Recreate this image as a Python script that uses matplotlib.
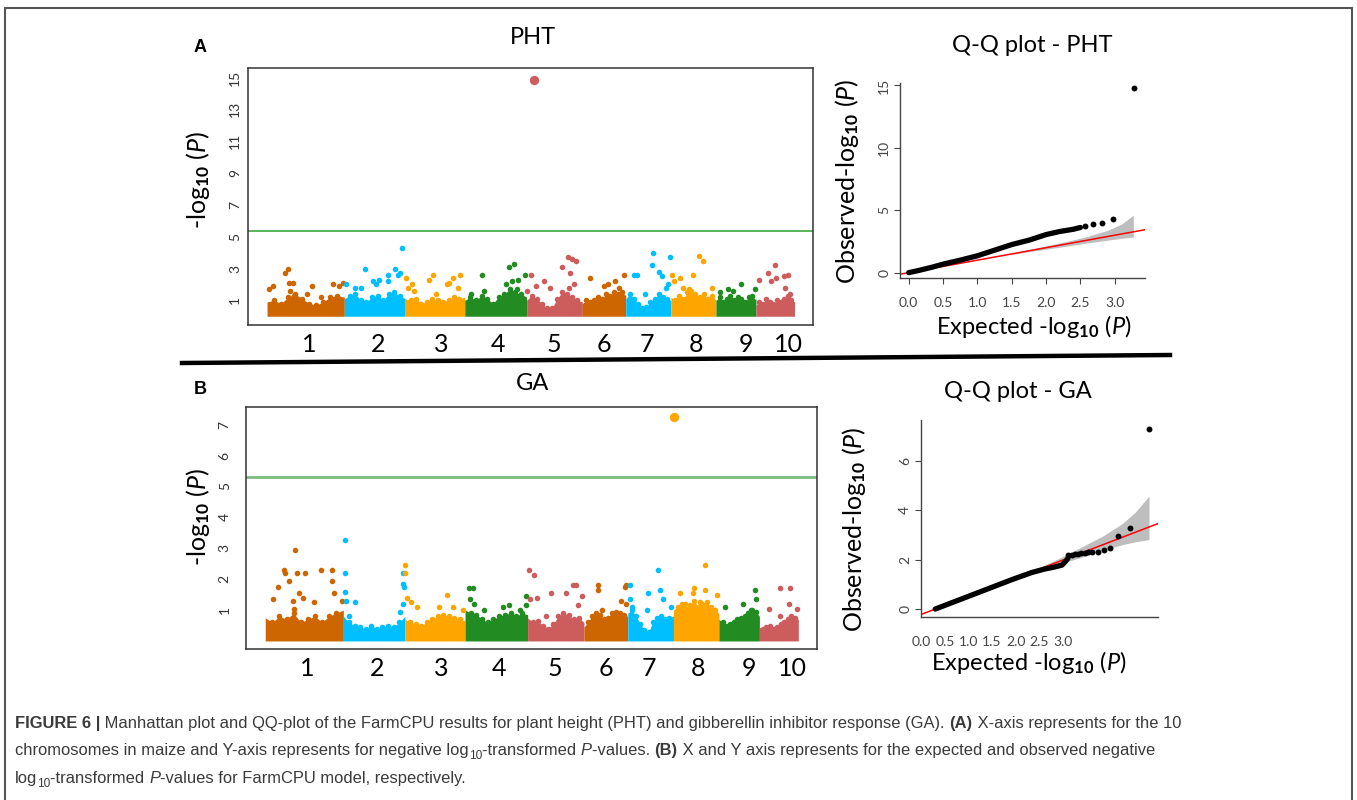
import numpy as np
import matplotlib
matplotlib.use('Agg')
import matplotlib.pyplot as plt
from matplotlib.lines import Line2D
from matplotlib.patches import Rectangle
from matplotlib import font_manager

W, H = 1357, 800
plt.rcParams['font.family'] = ['Lato', 'DejaVu Sans']
plt.rcParams['mathtext.fontset'] = 'custom'
plt.rcParams['mathtext.rm'] = 'Lato'
plt.rcParams['mathtext.it'] = 'Lato:italic'
plt.rcParams['mathtext.bf'] = 'Lato:bold'

# ── data ───────────────────────────────────────────────────────────────────
chrom_names = [str(i) for i in range(1, 11)]
chrom_len = [301, 237, 232, 241, 217, 169, 176, 175, 156, 150]          # Mb
chrom_label_pos = [163, 432, 677, 899, 1117, 1311, 1479, 1669, 1864, 2031]
chrom_colors = ['#CD6600', '#00BFFF', '#FFA500', '#228B22', '#CD5C5C'] * 2

# PHT Manhattan: dense band height along each chromosome + scattered SNPs (pos fraction, -log10 P)
pht_band = [
    [0.9, 1.0, 0.8, 1.2, 1.4, 1.1, 0.8, 0.7, 0.9, 1.2, 1.3, 1.2],
    [1.1, 1.3, 1.4, 1.0, 0.9, 1.2, 1.3, 1.0, 1.4, 1.5, 1.3, 1.1],
    [1.1, 1.0, 1.1, 0.8, 0.9, 1.1, 1.0, 0.9, 1.0, 1.2, 1.1, 1.2],
    [1.0, 1.2, 1.0, 1.3, 1.1, 0.8, 1.2, 1.4, 1.7, 1.5, 1.4, 1.2],
    [1.0, 1.3, 1.1, 0.8, 0.5, 0.5, 1.1, 1.5, 1.4, 1.2, 1.0, 0.9],
    [0.8, 1.0, 0.9, 1.0, 1.2, 1.1, 1.4, 1.3, 1.5, 1.4, 1.5, 1.3],
    [1.1, 1.4, 1.1, 0.8, 0.5, 0.6, 0.9, 1.1, 1.4, 1.2, 1.1, 1.0],
    [1.2, 1.0, 1.3, 1.1, 1.5, 1.6, 1.4, 1.2, 1.4, 1.1, 1.3, 1.0],
    [1.0, 1.2, 0.9, 1.1, 1.3, 1.0, 1.2, 1.1, 0.9, 1.2, 1.0, 1.1],
    [0.7, 0.9, 0.8, 1.1, 0.9, 0.8, 1.0, 0.9, 1.1, 1.3, 1.0, 0.9],
]
pht_snps = [
    [(.03, 1.7), (.08, 1.9), (.23, 2.7), (.27, 3.0), (.28, 2.1), (.33, 2.1), (.30, 1.6),
     (.35, 1.3), (.52, 1.4), (.58, 1.9), (.70, 1.2), (.86, 2.0), (.93, 1.9), (.98, 2.1)],
    [(.03, 2.0), (.17, 1.8), (.27, 1.8), (.34, 3.0), (.47, 2.2), (.52, 2.0), (.57, 2.3),
     (.71, 2.6), (.72, 2.2), (.84, 3.0), (.88, 2.6), (.95, 4.3), (.91, 2.7)],
    [(.01, 2.4), (.05, 1.8), (.12, 2.0), (.15, 1.6), (.40, 2.3), (.46, 2.6), (.51, 1.4),
     (.70, 2.0), (.74, 2.1), (.81, 2.4), (.92, 2.6), (.89, 1.8)],
    [(.28, 2.6), (.31, 1.6), (.10, 1.4), (.72, 3.1), (.80, 3.3), (.66, 2.0), (.77, 2.2),
     (.86, 2.3), (.97, 2.6), (.84, 1.7)],
    [(.01, 1.6), (.07, 2.6), (.16, 1.9), (.31, 2.2), (.42, 1.8), (.64, 3.1), (.74, 3.75),
     (.82, 3.6), (.89, 3.5), (.78, 2.7), (.85, 2.0), (.76, 1.8)],
    [(.18, 2.4), (.50, 1.9), (.60, 2.0), (.95, 2.6), (.75, 2.2), (.85, 1.8)],
    [(.19, 2.6), (.24, 2.6), (.43, 1.4), (.60, 4.0), (.58, 3.2), (.73, 2.8), (.81, 2.5),
     (.97, 3.7), (.93, 2.0), (.89, 1.8)],
    [(.02, 2.6), (.07, 2.2), (.21, 2.4), (.48, 2.6), (.62, 3.8), (.71, 3.5), (.27, 1.8),
     (.41, 1.7), (.91, 1.8)],
    [(.11, 1.5), (.31, 1.7), (.42, 1.6), (.62, 2.0), (.97, 1.7), (.91, 1.3)],
    [(.08, 2.3), (.32, 2.7), (.40, 2.2), (.49, 3.2), (.53, 2.4), (.72, 2.5), (.82, 2.6),
     (.76, 1.8), (.89, 1.4)],
]
pht_top_snp = (4, 0.13, 14.85)          # chromosome index, position fraction, -log10 P
pht_threshold = 5.36

ga_band = [
    [0.75, 0.6, 0.8, 0.7, 0.9, 0.6, 0.7, 0.8, 0.6, 0.8, 0.9, 1.0],
    [0.8, 0.6, 0.5, 0.45, 0.4, 0.5, 0.4, 0.45, 0.5, 0.45, 0.6, 0.8],
    [0.7, 0.6, 0.55, 0.5, 0.6, 0.7, 0.8, 0.85, 0.8, 0.75, 0.7, 0.65],
    [1.0, 0.9, 0.85, 0.7, 0.6, 0.7, 0.8, 0.85, 0.9, 0.8, 0.9, 0.85],
    [0.75, 0.6, 0.65, 0.5, 0.4, 0.55, 0.8, 0.9, 0.85, 0.7, 0.75, 0.6],
    [0.45, 0.6, 0.8, 0.9, 0.85, 0.7, 0.75, 0.9, 0.95, 0.9, 0.85, 0.8],
    [0.9, 1.0, 0.8, 0.55, 0.35, 0.3, 0.6, 0.75, 0.8, 0.7, 0.75, 0.8],
    [1.0, 1.1, 1.2, 1.05, 1.15, 1.3, 1.1, 1.2, 1.25, 1.1, 1.0, 0.9],
    [0.7, 0.6, 0.5, 0.55, 0.6, 0.7, 0.75, 0.8, 0.9, 1.0, 0.95, 0.8],
    [0.45, 0.4, 0.45, 0.5, 0.4, 0.45, 0.55, 0.6, 0.7, 0.8, 0.75, 0.7],
]
ga_snps = [
    [(.10, 1.35), (.16, 1.75), (.24, 2.3), (.25, 2.2), (.30, 1.95), (.38, 2.95), (.41, 2.2),
     (.43, 1.55), (.51, 2.2), (.49, 1.4), (.62, 1.25), (.72, 2.3), (.86, 2.3), (.86, 1.95),
     (.88, 1.55), (.98, 1.3), (.37, 1.05), (.35, 1.3)],
    [(.02, 3.28), (.03, 2.2), (.03, 1.6), (.05, 1.3), (.19, 1.25), (.09, 0.8), (.97, 2.2),
     (.98, 1.75), (.97, 1.85), (.97, 1.2), (.92, 0.95)],
    [(.01, 2.45), (.01, 2.2), (.04, 1.4), (.11, 1.25), (.21, 1.1), (.70, 1.5), (.57, 1.1),
     (.80, 1.1), (.96, 1.0)],
    [(.07, 1.7), (.12, 1.7), (.08, 1.35), (.14, 1.2), (.30, 1.0), (.61, 1.1), (.71, 1.15),
     (.88, 1.0), (.98, 1.45), (.98, 1.15)],
    [(.03, 2.3), (.12, 2.15), (.05, 1.35), (.17, 1.4), (.42, 1.55), (.32, 0.8), (.68, 1.55),
     (.80, 1.8), (.86, 1.8), (.96, 1.45), (.89, 1.15)],
    [(.32, 1.8), (.32, 1.65), (.93, 1.75), (.97, 1.8), (.84, 1.3), (.95, 1.2), (.42, 1.0)],
    [(.05, 1.8), (.05, 1.35), (.09, 1.1), (.45, 1.55), (.66, 2.29), (.70, 1.65), (.77, 1.35),
     (.95, 1.1), (.41, 1.0)],
    [(.70, 2.45), (.14, 1.55), (.43, 1.55), (.46, 1.7), (.70, 1.65), (.95, 1.5), (.26, 1.2),
     (.58, 1.25)],
    [(.16, 1.1), (.60, 1.2), (.89, 1.65), (.92, 1.35), (.79, 1.0)],
    [(.24, 1.05), (.53, 1.7), (.79, 1.7), (.77, 1.2), (.97, 1.05), (.53, 0.8)],
]
ga_top_snp = (7, 0.02, 7.25)
ga_threshold = 5.31

# Q-Q plots: dense part of the curve, sparse tail points, confidence band
pht_qq_exp = [0, 0.15, 0.35, 0.5, 0.75, 1.0, 1.25, 1.5, 1.75, 2.0, 2.2, 2.4, 2.5]
pht_qq_obs = [0, 0.18, 0.45, 0.68, 1.0, 1.35, 1.8, 2.25, 2.6, 3.05, 3.3, 3.48, 3.62]
pht_tail_exp = [2.56, 2.68, 2.81, 2.98, 3.28]
pht_tail_obs = [3.72, 3.86, 4.0, 4.26, 14.8]
pht_ci_exp = [1.5, 1.8, 2.0, 2.3, 2.6, 2.9, 3.1, 3.27]
pht_ci_hi = [1.55, 1.9, 2.15, 2.5, 2.9, 3.4, 3.9, 4.6]
pht_ci_lo = [1.45, 1.72, 1.88, 2.12, 2.38, 2.6, 2.75, 2.85]

ga_qq_exp = [0, 0.3, 0.6, 0.9, 1.2, 1.5, 1.7, 1.85, 1.97, 2.03, 2.06]
ga_qq_obs = [0, 0.3, 0.6, 0.9, 1.2, 1.48, 1.62, 1.7, 1.78, 1.95, 2.05]
ga_tail_exp = [2.07, 2.12, 2.17, 2.22, 2.27, 2.32, 2.37, 2.43, 2.53, 2.62, 2.71, 2.84, 3.02, 3.32]
ga_tail_obs = [2.2, 2.2, 2.21, 2.22, 2.25, 2.28, 2.3, 2.3, 2.3, 2.4, 2.49, 2.96, 3.28, 7.27]
ga_ci_exp = [1.5, 1.8, 2.0, 2.3, 2.6, 2.9, 3.1, 3.32]
ga_ci_hi = [1.55, 1.9, 2.15, 2.55, 2.95, 3.45, 3.9, 4.57]
ga_ci_lo = [1.45, 1.72, 1.88, 2.12, 2.38, 2.6, 2.72, 2.81]

qq_xtick_labels = ['0.0', '0.5', '1.0', '1.5', '2.0', '2.5', '3.0']
pht_qq_xtick_pos = [0, 0.5, 1.0, 1.5, 2.0, 2.5, 3.0]
ga_qq_xtick_pos = [-0.22, 0.15, 0.515, 0.88, 1.25, 1.62, 1.99]   # labels sit off the data scale

ylab_manh = r'-log$_{\mathbf{10}}$ ($\mathit{P}$)'
ylab_qq = r'Observed-log$_{\mathbf{10}}$ ($\mathit{P}$)'
xlab_qq = r'Expected -log$_{\mathbf{10}}$ ($\mathit{P}$)'

fig = plt.figure(figsize=(W / 100, H / 100), dpi=100)


def px_axes(l, t, r, b):
    return fig.add_axes([l / W, 1 - b / H, (r - l) / W, (b - t) / H])


def px_text(x, y, s, **kw):
    return fig.text(x / W, 1 - y / H, s, **kw)


def manhattan(ax, band, snps, top, thr, thr_color, thr_lw, ylim, yticks, ypad):
    starts = np.concatenate([[0], np.cumsum(chrom_len)[:-1]])
    for i, (L, s0) in enumerate(zip(chrom_len, starts)):
        col = chrom_colors[i]
        h = np.asarray(band[i])
        bx = s0 + np.linspace(0, 1, len(h)) * L
        ax.fill_between(bx, 0.0, h, color=col, lw=0, zorder=2)
        ax.scatter(bx[1:-1], h[1:-1], s=16, color=col, lw=0, zorder=3)
        pf, pv = zip(*snps[i])
        ax.scatter(s0 + np.array(pf) * L, pv, s=16, color=col, lw=0, zorder=3)
    ci, cf, cv = top
    ax.scatter(starts[ci] + cf * chrom_len[ci], cv, s=45, color=chrom_colors[ci], lw=0, zorder=4)
    ax.axhline(thr, color=thr_color, lw=thr_lw, zorder=1)
    ax.set_xlim(-74, sum(chrom_len) + 72)
    ax.set_ylim(*ylim)
    ax.set_xticks(chrom_label_pos, chrom_names)
    ax.set_yticks(yticks)
    ax.tick_params(axis='x', length=0, labelsize=18, pad=6)
    ax.tick_params(axis='y', length=0, labelsize=10, pad=ypad, labelrotation=90,
                   labelcolor='#333333')
    for lab in ax.get_yticklabels():
        lab.set_va('center')
    for sp in ax.spines.values():
        sp.set_color('#333333')
        sp.set_linewidth(1.1)


def qq(ax, ce, co, te, to, cie, cilo, cihi, xlim, ylim, yticks, xtpos, xtlen):
    ax.fill_between(cie, cilo, cihi, color='#BEBEBE', lw=0, zorder=1)
    ax.axline((0, 0), slope=1, color='red', lw=1.1, zorder=2)
    ax.plot(ce, co, color='black', lw=3.8, solid_capstyle='round', zorder=3)
    ax.scatter(te, to, s=18, color='black', lw=0, zorder=3)
    ax.set_xlim(*xlim)
    ax.set_ylim(*ylim)
    ax.set_yticks(yticks)
    ax.set_xticks(xtpos, qq_xtick_labels)
    ax.spines[['top', 'right']].set_visible(False)
    for sp in ('left', 'bottom'):
        ax.spines[sp].set_color('#444444')
        ax.spines[sp].set_linewidth(1.0)
    ax.tick_params(axis='y', length=4, labelsize=10, labelrotation=90, color='#444444',
                   labelcolor='#444444', pad=3)
    ax.tick_params(axis='x', length=xtlen, labelsize=10, color='#444444',
                   labelcolor='#444444', pad=14 - xtlen)
    for lab in ax.get_yticklabels():
        lab.set_va('center')


# ── panel A ────────────────────────────────────────────────────────────────
axA = px_axes(248, 68, 813, 325)
manhattan(axA, pht_band, pht_snps, pht_top_snp, pht_threshold, '#2ca02c', 1.1,
          (-0.55, 15.6), [1, 3, 5, 7, 9, 11, 13, 15], 5)
px_text(198, 180, ylab_manh, rotation=90, fontsize=18, ha='center', va='center')
px_text(533, 38, 'PHT', fontsize=17, ha='center', va='center')

qA = px_axes(900, 83, 1145, 278)
qq(qA, pht_qq_exp, pht_qq_obs, pht_tail_exp, pht_tail_obs, pht_ci_exp, pht_ci_lo, pht_ci_hi,
   (-0.127, 3.44), (-0.43, 15.2), [0, 5, 10, 15], pht_qq_xtick_pos, 4)
px_text(1032, 45, 'Q-Q plot - PHT', fontsize=17, ha='center', va='center')
px_text(1034, 326, xlab_qq, fontsize=17, ha='center', va='center')
px_text(847, 181, ylab_qq, rotation=90, fontsize=18, ha='center', va='center')

# ── panel B ────────────────────────────────────────────────────────────────
axB = px_axes(246, 407, 817, 649)
manhattan(axB, ga_band, ga_snps, ga_top_snp, ga_threshold, '#7dbb7d', 2.0,
          (-0.26, 7.57), [1, 2, 3, 4, 5, 6, 7], 11)
px_text(198, 517, ylab_manh, rotation=90, fontsize=18, ha='center', va='center')
px_text(533, 383, 'GA', fontsize=17, ha='center', va='center')

qB = px_axes(921, 420, 1158, 617)
qq(qB, ga_qq_exp, ga_qq_obs, ga_tail_exp, ga_tail_obs, ga_ci_exp, ga_ci_lo, ga_ci_hi,
   (-0.136, 3.46), (-0.32, 7.65), [0, 2, 4, 6], ga_qq_xtick_pos, 0)
px_text(1018, 392, 'Q-Q plot - GA', fontsize=17, ha='center', va='center')
px_text(1029, 662, xlab_qq, fontsize=17, ha='center', va='center')
px_text(854, 529, ylab_qq, rotation=90, fontsize=18, ha='center', va='center')

# panel letters, divider and page frame
px_text(200, 47, 'A', fontsize=13, weight='bold', family='Liberation Sans', ha='center', va='center')
px_text(200, 389, 'B', fontsize=13, weight='bold', family='Liberation Sans', ha='center', va='center')
fig.add_artist(Line2D([182 / W, 1170 / W], [1 - 363 / H, 1 - 355 / H], color='black', lw=3.2))
fig.add_artist(Rectangle((5 / W, -0.02), 1347 / W, 1.02 - 8 / H, fill=False,
                         edgecolor='#555555', lw=1.5, transform=fig.transFigure))

# ── caption ────────────────────────────────────────────────────────────────
try:
    font_manager.findfont('Liberation Sans Narrow', fallback_to_default=False)
    cap_family = 'Liberation Sans Narrow'
except ValueError:
    cap_family = 'Liberation Sans'
cap_color = '#3a3a3a'
renderer = fig.canvas.get_renderer()

caption = [
    [('FIGURE 6 |', 'bold', 'normal', False),
     (' Manhattan plot and QQ-plot of the FarmCPU results for plant height (PHT) and gibberellin '
      'inhibitor response (GA). ', 'normal', 'normal', False),
     ('(A)', 'bold', 'normal', False),
     (' X-axis represents for the 10', 'normal', 'normal', False)],
    [('chromosomes in maize and Y-axis represents for negative log', 'normal', 'normal', False),
     ('10', 'normal', 'normal', True),
     ('-transformed ', 'normal', 'normal', False),
     ('P', 'normal', 'italic', False),
     ('-values. ', 'normal', 'normal', False),
     ('(B)', 'bold', 'normal', False),
     (' X and Y axis represents for the expected and observed negative', 'normal', 'normal', False)],
    [('log', 'normal', 'normal', False),
     ('10', 'normal', 'normal', True),
     ('-transformed ', 'normal', 'normal', False),
     ('P', 'normal', 'italic', False),
     ('-values for FarmCPU model, respectively.', 'normal', 'normal', False)],
]
cap_y = [728, 755, 783]


def draw_runs(x0, y0, runs, size, draw=True):
    x = x0
    for s, wt, st, sub in runs:
        fs = size * 0.72 if sub else size
        dy = 4 if sub else 0
        t = fig.text(x / W, 1 - (y0 + dy) / H, s, fontsize=fs, weight=wt, style=st,
                     family=cap_family, color=cap_color, va='baseline', ha='left')
        x += t.get_window_extent(renderer).width
        if not draw:
            t.remove()
    return x - x0


w10 = draw_runs(15, 728, caption[0], 10, draw=False)
cap_size = 10 * 1166 / w10
for runs, y in zip(caption, cap_y):
    draw_runs(15, y, runs, cap_size)

fig.savefig('out.png', dpi=100)
